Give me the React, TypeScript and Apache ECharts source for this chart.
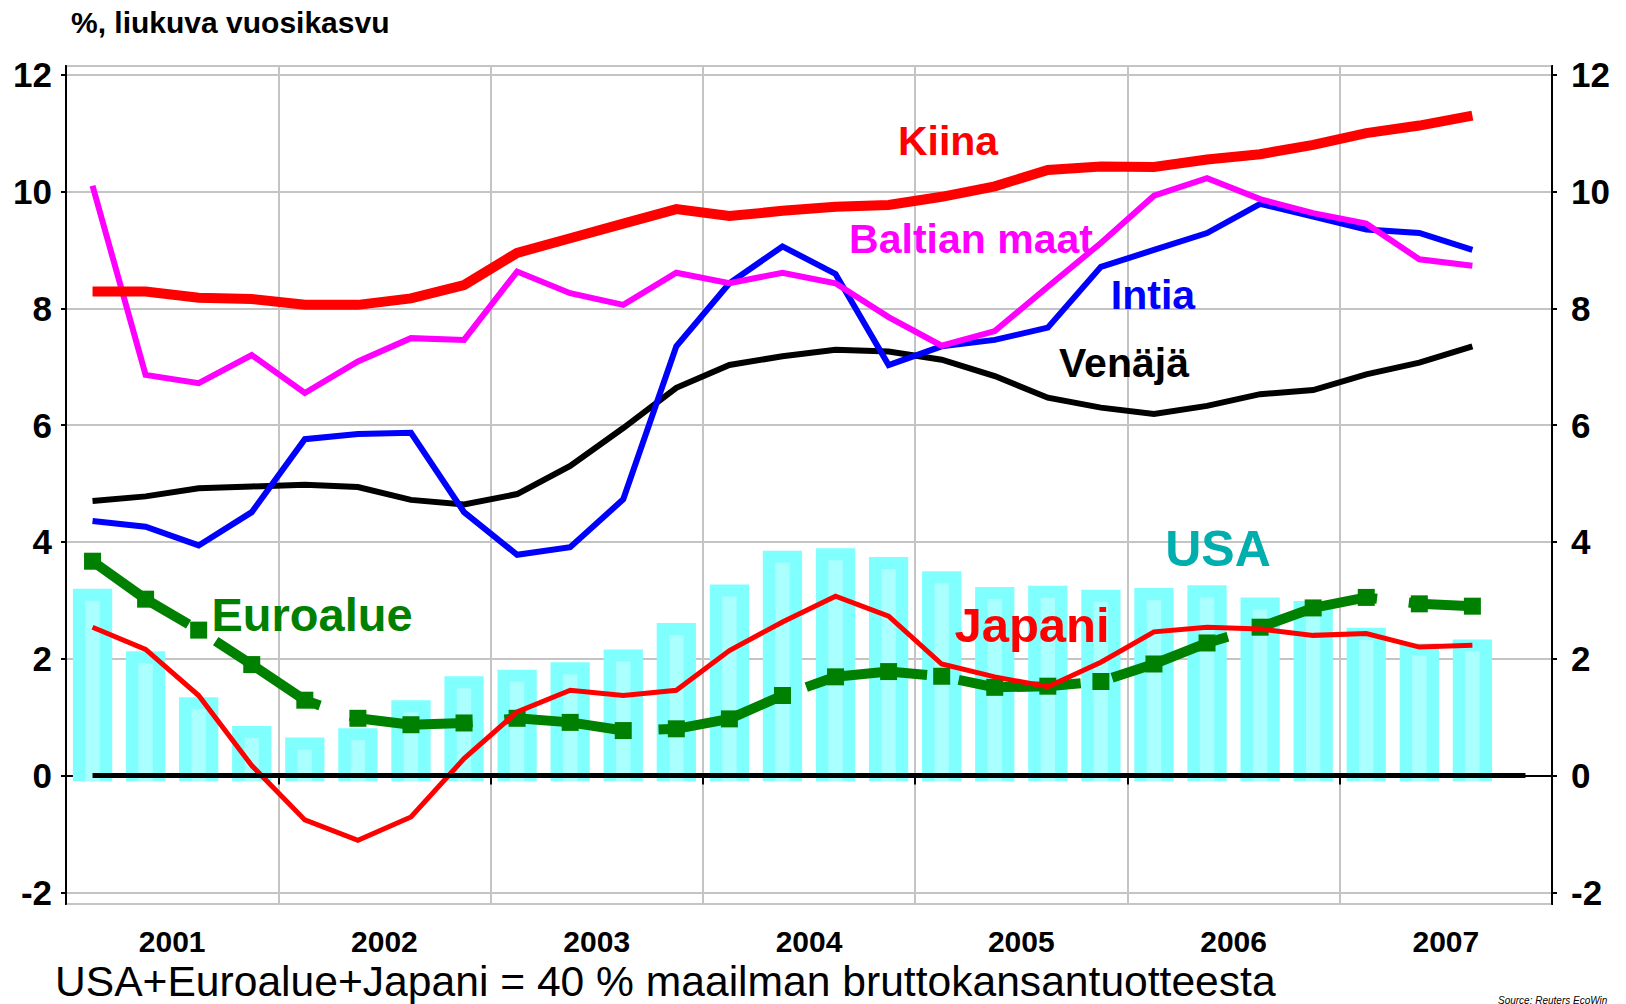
import React, { useEffect, useRef } from 'react';
import * as echarts from 'echarts';

const QUARTERS = [
  '2001Q1', '2001Q2', '2001Q3', '2001Q4',
  '2002Q1', '2002Q2', '2002Q3', '2002Q4',
  '2003Q1', '2003Q2', '2003Q3', '2003Q4',
  '2004Q1', '2004Q2', '2004Q3', '2004Q4',
  '2005Q1', '2005Q2', '2005Q3', '2005Q4',
  '2006Q1', '2006Q2', '2006Q3', '2006Q4',
  '2007Q1', '2007Q2', '2007Q3', '2007Q4',
];
const YEARS = ['2001', '2002', '2003', '2004', '2005', '2006', '2007'];

const KIINA = [8.29, 8.29, 8.18, 8.16, 8.06, 8.06, 8.17, 8.4, 8.95, 9.2, 9.45, 9.7, 9.58, 9.67, 9.74, 9.77, 9.91, 10.09, 10.37, 10.43, 10.42, 10.55, 10.64, 10.8, 11.0, 11.13, 11.3];
const BALTIA = [10.1, 6.86, 6.72, 7.2, 6.55, 7.09, 7.49, 7.46, 8.63, 8.26, 8.06, 8.61, 8.43, 8.61, 8.43, 7.85, 7.36, 7.61, 8.37, 9.12, 9.93, 10.23, 9.87, 9.63, 9.45, 8.84, 8.73];
const INTIA = [4.36, 4.26, 3.94, 4.51, 5.76, 5.85, 5.87, 4.51, 3.78, 3.91, 4.73, 7.35, 8.43, 9.06, 8.59, 7.03, 7.35, 7.46, 7.67, 8.71, 9.0, 9.29, 9.79, 9.57, 9.35, 9.29, 9.0];
const VENAJA = [4.7, 4.78, 4.92, 4.95, 4.98, 4.94, 4.72, 4.64, 4.82, 5.3, 5.95, 6.64, 7.03, 7.18, 7.29, 7.26, 7.12, 6.84, 6.47, 6.3, 6.19, 6.33, 6.53, 6.6, 6.87, 7.07, 7.35];
const JAPANI = [2.54, 2.16, 1.37, 0.17, -0.76, -1.11, -0.71, 0.29, 1.09, 1.46, 1.37, 1.46, 2.14, 2.63, 3.07, 2.73, 1.91, 1.69, 1.52, 1.94, 2.46, 2.54, 2.51, 2.4, 2.43, 2.2, 2.23];
const EUROALUE = [3.67, 3.02, 2.49, 1.9, 1.29, 0.98, 0.87, 0.9, 0.98, 0.91, 0.77, 0.8, 0.97, 1.37, 1.69, 1.78, 1.7, 1.51, 1.53, 1.61, 1.91, 2.27, 2.54, 2.87, 3.05, 2.94, 2.9];
const USA = [3.2, 2.13, 1.34, 0.85, 0.65, 0.81, 1.29, 1.7, 1.81, 1.94, 2.16, 2.61, 3.27, 3.85, 3.89, 3.74, 3.5, 3.23, 3.25, 3.18, 3.21, 3.26, 3.05, 2.99, 2.53, 2.26, 2.33];
const BAR_BASE = -0.1;

const FONT = '"Liberation Sans", Arial, Helvetica, sans-serif';

const TITLE = '%, liukuva vuosikasvu';
const FOOTNOTE = 'USA+Euroalue+Japani = 40 % maailman bruttokansantuotteesta';
const SOURCE = 'Source: Reuters EcoWin';

function yLabel(v: number) {
  const r = Math.round(v);
  if (Math.abs(v - r) > 1e-6 || r % 2 !== 0) return '';
  return String(r);
}

function txt(text: string, x: number, y: number, size: number, color: string, opts: any = {}) {
  return {
    type: 'text',
    x,
    y,
    z: 100,
    style: {
      text,
      fill: color,
      fontSize: size,
      fontWeight: opts.weight || 'bold',
      fontStyle: opts.style || 'normal',
      fontFamily: FONT,
      align: opts.align || 'center',
      verticalAlign: opts.valign || 'middle',
      textAlign: opts.align || 'center',
      textVerticalAlign: opts.valign || 'middle',
    },
  };
}

export default function App() {
  const ref = useRef<HTMLDivElement>(null);

  useEffect(() => {
    if (!ref.current) return;
    const chart = echarts.init(ref.current, null, { renderer: 'svg' });

    const lineSeries = (name: string, data: number[], color: string, width: number, z: number) => ({
      name,
      type: 'line',
      data,
      symbol: 'none',
      z,
      lineStyle: { color, width, cap: 'butt', join: 'miter' },
      itemStyle: { color },
    });

    const option: any = {
      animation: false,
      backgroundColor: '#ffffff',
      textStyle: { fontFamily: FONT },
      grid: {
        left: 66,
        right: 74,
        top: 66,
        bottom: 100,
        show: true,
        borderColor: '#000',
        borderWidth: 2,
        backgroundColor: 'transparent',
        containLabel: false,
        outerBoundsMode: 'none',
      },
      xAxis: [
        {
          type: 'category',
          data: QUARTERS,
          boundaryGap: true,
          show: false,
        },
        {
          type: 'category',
          data: YEARS,
          boundaryGap: true,
          position: 'bottom',
          axisLine: { show: true, lineStyle: { color: '#000', width: 2 } },
          axisTick: { show: true, length: 9, lineStyle: { color: '#000', width: 2 } },
          splitLine: { show: true, lineStyle: { color: '#c4c4c4', width: 2 } },
          axisLabel: { fontSize: 30, fontWeight: 'bold', color: '#000', margin: 22, fontFamily: FONT },
        },
      ],
      yAxis: [
        {
          type: 'value',
          min: -2.2,
          max: 12.15,
          splitNumber: 7,
          position: 'left',
          axisLine: { show: true, lineStyle: { color: '#000', width: 2 } },
          axisTick: { show: true, length: 5, lineStyle: { color: '#000', width: 2 } },
          splitLine: { show: true, lineStyle: { color: '#c4c4c4', width: 2 } },
          axisLabel: {
            fontSize: 35, fontWeight: 'bold', color: '#000', margin: 14, fontFamily: FONT,
            formatter: yLabel, showMinLabel: false, showMaxLabel: false,
          },
        },
        {
          type: 'value',
          min: -2.2,
          max: 12.15,
          splitNumber: 7,
          position: 'right',
          axisLine: { show: true, lineStyle: { color: '#000', width: 2 } },
          axisTick: { show: true, length: 5, lineStyle: { color: '#000', width: 2 } },
          splitLine: { show: false },
          axisLabel: {
            fontSize: 35, fontWeight: 'bold', color: '#000', margin: 19, fontFamily: FONT,
            formatter: yLabel, showMinLabel: false, showMaxLabel: false,
          },
        },
      ],
      series: [
        {
          name: 'USA',
          type: 'custom',
          xAxisIndex: 0,
          yAxisIndex: 0,
          z: 1,
          data: USA.map((v, i) => [i, v]),
          encode: { x: 0, y: 1 },
          renderItem: (params: any, api: any) => {
            const idx = api.value(0);
            const v = api.value(1);
            const top = api.coord([idx, v]);
            const bottom = api.coord([idx, BAR_BASE]);
            const w = api.size([1, 0])[0];
            const ow = w * 0.74;
            const iw = w * 0.27;
            return {
              type: 'group',
              children: [
                {
                  type: 'rect',
                  shape: { x: top[0] - ow / 2, y: top[1], width: ow, height: bottom[1] - top[1] },
                  style: { fill: '#80ffff' },
                },
                {
                  type: 'rect',
                  shape: { x: top[0] - iw / 2, y: top[1] + 12, width: iw, height: Math.max(0, bottom[1] - top[1] - 12) },
                  style: { fill: '#aaffff' },
                },
              ],
            };
          },
          markLine: {
            silent: true,
            symbol: 'none',
            label: { show: false },
            lineStyle: { color: '#000', width: 5, type: 'solid' },
            data: [[{ coord: [QUARTERS[0], 0] }, { coord: [QUARTERS[QUARTERS.length - 1], 0] }]],
          },
        },
        {
          name: 'Euroalue',
          type: 'line',
          data: EUROALUE,
          z: 3,
          symbol: 'rect',
          symbolSize: 17,
          showAllSymbol: true,
          lineStyle: { color: '#008000', width: 10, type: [123, 32], dashOffset: 8, cap: 'butt' },
          itemStyle: { color: '#008000' },
        },
        lineSeries('Japani', JAPANI, '#ff0000', 5, 4),
        lineSeries('Venäjä', VENAJA, '#000000', 6, 5),
        lineSeries('Intia', INTIA, '#0000ff', 6, 6),
        lineSeries('Baltian maat', BALTIA, '#ff00ff', 6, 7),
        lineSeries('Kiina', KIINA, '#ff0000', 10, 8),
      ],
      graphic: [
        txt(TITLE, 71, 22, 30, '#000', { align: 'left' }),
        txt('Kiina', 948, 141, 41, '#ff0000'),
        txt('Baltian maat', 971, 239, 41, '#ff00ff'),
        txt('Intia', 1153, 295, 41, '#0000ff'),
        txt('Venäjä', 1124, 363, 41, '#000000'),
        txt('USA', 1218, 549, 50, '#00aeae'),
        txt('Euroalue', 312, 614, 47, '#008000'),
        txt('Japani', 1032, 625, 49, '#ff0000'),
        txt(FOOTNOTE, 55, 981, 42.6, '#000', { align: 'left', weight: 'normal' }),
        txt(SOURCE, 1498, 995, 10, '#000', { align: 'left', valign: 'top', weight: 'normal', style: 'italic' }),
      ],
    };

    chart.setOption(option);
    return () => chart.dispose();
  }, []);

  return (
    <div
      ref={ref}
      style={{ position: 'fixed', left: 0, top: 0, width: 1626, height: 1004, background: '#fff' }}
    />
  );
}
